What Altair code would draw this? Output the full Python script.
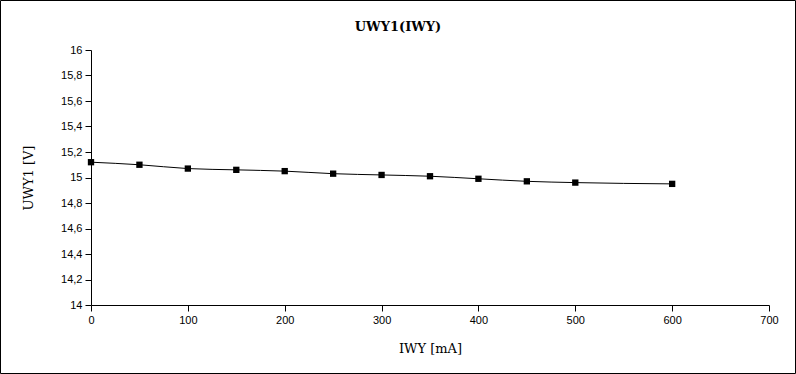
import altair as alt
import pandas as pd

# Data
iwy_ma = [0, 50, 100, 150, 200, 250, 300, 350, 400, 450, 500, 600]
uwy1_v = [15.12, 15.10, 15.07, 15.06, 15.05, 15.03, 15.02, 15.01, 14.99, 14.97, 14.96, 14.95]
x_ticks = [0, 100, 200, 300, 400, 500, 600, 700]
y_ticks = [14, 14.2, 14.4, 14.6, 14.8, 15, 15.2, 15.4, 15.6, 15.8, 16]
chart_title = "UWY1(IWY)"

df = pd.DataFrame({"IWY": iwy_ma, "UWY1": uwy1_v})

W, H = 678, 255
PAD = {"left": 91, "top": 50, "right": 27, "bottom": 69}

x_enc = alt.X(
    "IWY:Q",
    scale=alt.Scale(domain=[0, 700], nice=False, zero=False),
    axis=alt.Axis(
        values=x_ticks,
        title="IWY [mA]",
        grid=False,
        titleY=43,
        titleBaseline="middle",
        titleFont="DejaVu Serif",
        titleFontSize=13,
        titleFontWeight="normal",
        labelOverlap=False,
        labelFlush=False,
    ),
)
y_enc = alt.Y(
    "UWY1:Q",
    scale=alt.Scale(domain=[14, 16], nice=False, zero=False),
    axis=alt.Axis(
        values=y_ticks,
        title="UWY1 [V]",
        grid=False,
        labelExpr="replace(format(datum.value, '~g'), '.', ',')",
        titleX=-63,
        titleY=H / 2,
        titleAngle=-90,
        titleAlign="center",
        titleBaseline="middle",
        titleFont="DejaVu Serif",
        titleFontSize=13,
        titleFontWeight="normal",
        labelOverlap=False,
        labelFlush=False,
    ),
)

line = alt.Chart(df).mark_line(color="black", strokeWidth=1, interpolate="monotone").encode(x=x_enc, y=y_enc)
pts = alt.Chart(df).mark_square(color="black", opacity=1, size=40, filled=True).encode(x=x_enc, y=y_enc)

border = alt.Chart(alt.Data(values=[{"a": 1}])).mark_rect(
    fill=None, stroke="black", strokeWidth=1, filled=False
).encode(
    x=alt.value(-PAD["left"] + 0.5),
    x2=alt.value(W + PAD["right"] - 0.5),
    y=alt.value(-PAD["top"] + 0.5),
    y2=alt.value(H + PAD["bottom"] - 0.5),
)

title_mark = alt.Chart(alt.Data(values=[{"t": chart_title}])).mark_text(
    font="DejaVu Serif", fontSize=13, fontWeight="bold", color="black",
    align="center", baseline="middle",
).encode(
    text="t:N",
    x=alt.value(398 - PAD["left"]),
    y=alt.value(27 - PAD["top"]),
)

chart = (
    alt.layer(line, pts, border, title_mark)
    .properties(
        width=W,
        height=H,
        padding=PAD,
        autosize=alt.AutoSizeParams(type="none"),
        background="white",
    )
    .configure_view(stroke=None)
    .configure_axis(
        domainColor="black",
        domainWidth=1,
        tickColor="black",
        tickSize=6,
        labelColor="black",
        labelFont="Liberation Sans",
        labelFontSize=11,
        labelPadding=3,
        labelFlush=False,
        labelOverlap=False,
        titleColor="black",
    )
)

chart.save("out.html", embed_options={"renderer": "svg", "actions": False})
